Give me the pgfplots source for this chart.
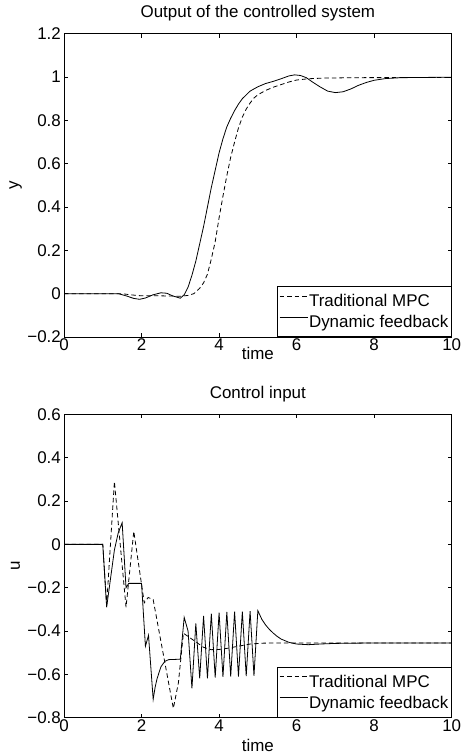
\documentclass[border=0pt]{standalone}
\usepackage{pgfplots}
\pgfplotsset{compat=1.18}
\usepackage{fontspec}
\setmainfont{Liberation Sans}
\begin{document}
\begin{tikzpicture}
\useasboundingbox (0,0) rectangle (461bp,756bp);
\pgfplotsset{
  mystyle/.style={
    scale only axis, width=387.7bp, height=303.3bp, anchor=south west,
    font=\fontsize{17}{20}\selectfont,
    xmin=0, xmax=10,
    xtick={0,2,4,6,8,10}, xticklabels={0,2,4,6,8,10},
    tick align=inside, major tick length=4bp,
    axis line style={line width=0.7bp}, every tick/.style={black, line width=0.7bp},
    xticklabel style={anchor=north, inner sep=0pt, yshift=-1.5bp},
    yticklabel style={anchor=east, inner sep=0pt, xshift=-3bp},
    every axis title shift=0pt,
    title style={at={(0.5,1)}, anchor=base, yshift=16bp, inner sep=0pt},
    ylabel style={at={(axis description cs:-0.125,0.5)}, anchor=center, rotate=0, inner sep=0pt},
    legend style={at={(1,0)}, anchor=south east, draw=black, line width=0.7bp,
      inner xsep=2bp, inner ysep=7bp, font=\fontsize{17}{19}\selectfont,
      nodes={inner xsep=1bp, inner ysep=0pt, text height=13bp, text depth=2bp},
      cells={anchor=west}, row sep=6bp},
    legend image code/.code={\draw[#1] (0bp,5bp) -- (28bp,5bp);},
  },
  dsh/.style={black, line width=0.8bp, dash pattern=on 4.5bp off 3bp},
  sld/.style={black, line width=0.8bp},
}
\begin{axis}[mystyle, at={(64bp,419bp)},
  ymin=-0.2, ymax=1.2,
  ytick={-0.2,0,0.2,0.4,0.6,0.8,1,1.2},
  yticklabels={−0.2,0,0.2,0.4,0.6,0.8,1,1.2},
  title={Output of the controlled system},
  xlabel={time}, xlabel style={at={(axis description cs:0.5,-0.055)}, anchor=center, inner sep=0pt},
  ylabel={y}]
\addplot[dsh] coordinates {
(0,0) (1.5,0) (1.7,-0.005) (2.0,-0.01) (2.5,-0.01) (3.0,-0.012) (3.2,-0.008)
(3.35,0.0) (3.5,0.025) (3.6,0.05) (3.7,0.09) (3.8,0.16) (3.9,0.24) (4.0,0.35)
(4.1,0.45) (4.2,0.545) (4.3,0.63) (4.4,0.70) (4.5,0.765) (4.6,0.815) (4.7,0.852)
(4.8,0.88) (4.9,0.903) (5.0,0.918) (5.2,0.938) (5.4,0.953) (5.6,0.965) (5.8,0.977)
(6.0,0.986) (6.3,0.992) (6.7,0.995) (7.5,0.997) (10,0.998)};
\addlegendentry{Traditional MPC}
\addplot[sld] coordinates {
(0,0) (1.4,0) (1.6,-0.01) (1.8,-0.022) (1.95,-0.026) (2.1,-0.02) (2.3,-0.005)
(2.5,0.004) (2.65,0.002) (2.8,-0.01) (3.0,-0.021) (3.1,-0.005) (3.2,0.03)
(3.3,0.085) (3.4,0.15) (3.5,0.23) (3.6,0.31) (3.7,0.40) (3.8,0.49) (3.9,0.57)
(4.0,0.65) (4.1,0.715) (4.2,0.77) (4.3,0.81) (4.4,0.845) (4.5,0.875) (4.6,0.9)
(4.8,0.935) (5.0,0.955) (5.2,0.97) (5.4,0.98) (5.6,0.992) (5.8,1.005) (5.95,1.01)
(6.1,1.007) (6.25,0.997) (6.4,0.978) (6.6,0.955) (6.8,0.935) (7.0,0.928)
(7.2,0.932) (7.4,0.945) (7.6,0.962) (7.8,0.975) (8.0,0.985) (8.3,0.993)
(8.7,0.997) (9.2,0.998) (10,0.999)};
\addlegendentry{Dynamic feedback}
\end{axis}
\begin{axis}[mystyle, at={(64bp,38.3bp)},
  ymin=-0.8, ymax=0.6,
  ytick={-0.8,-0.6,-0.4,-0.2,0,0.2,0.4,0.6},
  yticklabels={−0.8,−0.6,−0.4,−0.2,0,0.2,0.4,0.6},
  title={Control input},
  xlabel={time}, xlabel style={at={(axis description cs:0.5,-0.092)}, anchor=center, inner sep=0pt},
  ylabel={u}]
\addplot[dsh] coordinates {
(0,0) (1.0,0) (1.1,-0.28) (1.3,0.29) (1.6,-0.29) (1.8,0.06) (2.07,-0.27)
(2.17,-0.245) (2.3,-0.255) (2.82,-0.757) (2.95,-0.64) (3.08,-0.41) (3.2,-0.425)
(3.4,-0.45) (3.6,-0.475) (3.8,-0.486) (4.0,-0.485) (4.2,-0.48) (4.5,-0.47)
(4.8,-0.46) (5.1,-0.456) (5.5,-0.455) (10,-0.455)};
\addlegendentry{Traditional MPC}
\addplot[sld] coordinates {
(0,0) (1.0,0) (1.1,-0.29) (1.3,-0.026) (1.4,0.054) (1.5,0.1) (1.6,-0.2)
(1.67,-0.18) (2.0,-0.18) (2.1,-0.47) (2.18,-0.42) (2.3,-0.715) (2.35,-0.66)
(2.4,-0.62) (2.5,-0.565) (2.6,-0.54) (2.7,-0.532) (3.0,-0.53) (3.1,-0.337)
(3.2,-0.40) (3.3,-0.665) (3.4,-0.365) (3.5,-0.618) (3.6,-0.33) (3.7,-0.618)
(3.8,-0.32) (3.9,-0.615) (4.0,-0.315) (4.1,-0.612) (4.2,-0.312) (4.3,-0.61)
(4.4,-0.31) (4.5,-0.61) (4.6,-0.31) (4.7,-0.608) (4.8,-0.308) (4.9,-0.607)
(5.0,-0.306) (5.1,-0.345) (5.2,-0.372) (5.3,-0.393) (5.4,-0.41) (5.5,-0.425)
(5.6,-0.437) (5.8,-0.452) (6.0,-0.46) (6.3,-0.463) (6.6,-0.46) (7.0,-0.457)
(8.0,-0.455) (10,-0.455)};
\addlegendentry{Dynamic feedback}
\end{axis}
\end{tikzpicture}
\end{document}
